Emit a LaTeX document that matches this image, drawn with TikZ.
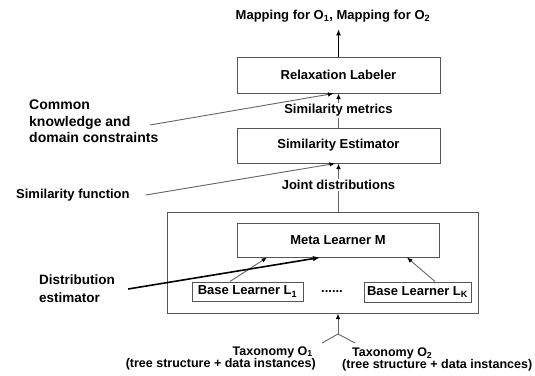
\documentclass[tikz,border=0pt]{standalone}
\usepackage{fontspec}
\setmainfont{Liberation Sans}
\usetikzlibrary{arrows.meta}
\definecolor{framegray}{RGB}{85,85,85}
\definecolor{wiregray}{RGB}{100,100,100}
\newcommand\diagfont{\fontsize{13}{14}\selectfont\bfseries}
\newcommand\inputfont{\fontsize{12.5}{14}\selectfont\bfseries}
\newcommand\notefont{\fontsize{14}{16.5}\selectfont\bfseries}
\newcommand\distfont{\fontsize{13.5}{18}\selectfont\bfseries}
\begin{document}
\begin{tikzpicture}[x=1pt,y=-1pt,
  block/.style={draw=framegray, line width=1pt, inner sep=0pt, font=\diagfont},
  caption/.style={inner sep=1pt, font=\diagfont},
  source/.style={inner sep=1pt, font=\inputfont},
  note/.style={inner sep=0pt, anchor=west, align=left},
  wire/.style={draw=wiregray, line width=0.9pt},
  feed/.style={wire, -{Latex[length=5.5pt,width=4.5pt,color=black]}},
  lift/.style={draw=black, line width=1.3pt, -{Latex[length=6pt,width=5pt]}},
  heavy/.style={draw=black, line width=1.6pt, -{Latex[length=7pt,width=5.5pt]}},
]
\useasboundingbox (0,0) rectangle (535,375);

% output
\node[caption] (mapping) at (333,16) {Mapping for O\textsubscript{1}, Mapping for O\textsubscript{2}};

% pipeline blocks
\node[block, minimum width=203pt, minimum height=36pt] (relax) at (338.5,75) {Relaxation Labeler};
\node[block, minimum width=203pt, minimum height=35pt] (est) at (338.5,145.5) {Similarity Estimator};
\node[block, minimum width=311pt, minimum height=101pt] (outer) at (322.5,262.5) {};
\node[block, minimum width=202pt, minimum height=34pt] (meta) at (338,240) {Meta Learner M};
\node[block, minimum width=111pt, minimum height=19pt] (b1) at (247.5,291.5) {Base Learner L\textsubscript{1}};
\node[caption] (dots) at (332,292) {......};
\node[block, minimum width=107pt, minimum height=20pt] (bk) at (417.5,292) {Base Learner L\textsubscript{K}};

% side notes
\node[note, font=\notefont] (common) at (29,121.5) {Common\\knowledge and\\domain constraints};
\node[note, font=\diagfont] (simfn) at (16,195) {Similarity function};
\node[note, font=\distfont] (distest) at (39,289) {Distribution\\estimator};
\coordinate (commonend) at (150,125);

% inputs
\node[source, anchor=east] (tax1) at (314,352) {Taxonomy O\textsubscript{1}};
\node[source, anchor=east] (tax1d) at (317,364) {(tree structure + data instances)};
\node[source, anchor=west] (tax2) at (351,353) {Taxonomy O\textsubscript{2}};
\node[source, anchor=west] (tax2d) at (341,365) {(tree structure + data instances)};
\coordinate (fork) at (338,334);
\coordinate (forkL) at (322,343);
\coordinate (forkR) at (355,343);

% connectors
\draw[lift, shorten >=6pt] (relax.north) -- (relax.north |- mapping.south);
\draw[feed] (est.north) -- (relax.south)
  node[caption, midway, fill=white] (simmet) {Similarity metrics};
\draw[feed] (est.south |- outer.north) -- (est.south)
  node[caption, pos=0.55, fill=white] (joint) {Joint distributions};
\draw[wire] (forkL) -- (fork) -- (forkR);
\draw[feed] (fork) -- (fork |- outer.south);
\draw[feed] ([xshift=-17.5pt]b1.north) -- ([xshift=-71pt]meta.south);
\draw[feed] ([xshift=17.5pt]bk.north) -- ([xshift=69pt]meta.south);
\draw[feed] (commonend) -- ([xshift=-5pt]relax.south);
\draw[feed] ([xshift=16pt]simfn.east) -- ([xshift=-3.5pt]est.south);
\draw[heavy] ([xshift=13pt]distest.east) -- ([xshift=-18pt]meta.south);
\end{tikzpicture}
\end{document}
